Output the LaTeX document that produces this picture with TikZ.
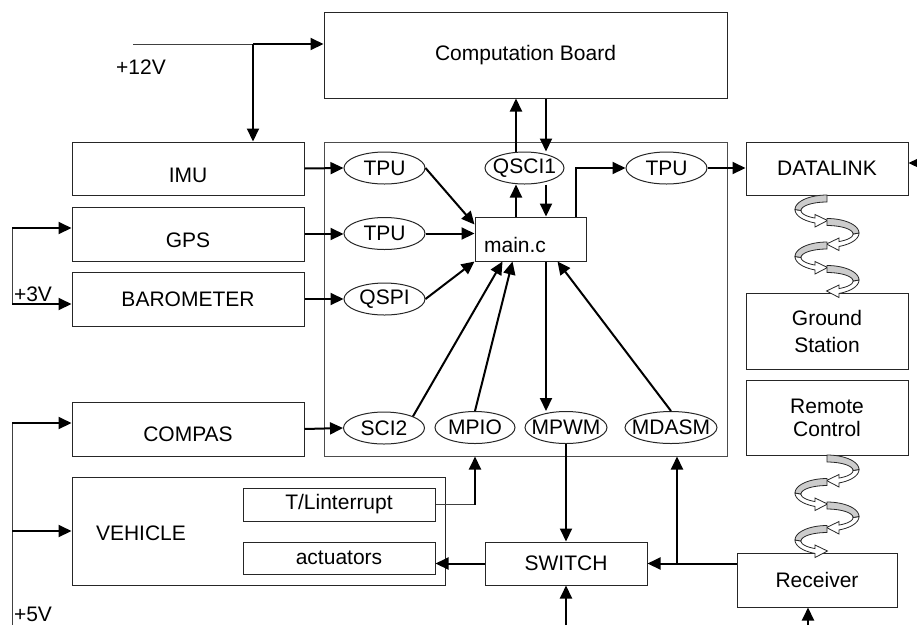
\documentclass[tikz,border=0pt]{standalone}
\usepackage{fontspec}
\setmainfont{Liberation Sans}
\usetikzlibrary{arrows.meta,shapes.geometric,calc}
\newcommand{\portlbl}[1]{\makebox[0pt]{#1}}
\tikzset{
 coil/.pic={
  \filldraw[fill=white, draw=black!85, line width=0.8pt]
    plot[domain=180:112, samples=16] ({32*cos(\x)},{14.5+14.5*sin(\x)})
    -- (-12,32) -- (0.5,25.5) -- (-12,19.5)
    -- plot[domain=117.5:180, samples=16] ({26*cos(\x)},{15.5+8.5*sin(\x)}) -- cycle;
  \filldraw[fill=gray!40, draw=black!85, line width=0.8pt]
    plot[domain=270:180, samples=16] ({32*cos(\x)},{14.5+14.5*sin(\x)})
    -- plot[domain=180:270, samples=16] ({26*cos(\x)},{15.5+8.5*sin(\x)}) -- cycle;
 }
}
\begin{document}
\begin{tikzpicture}[x=1pt,y=-1pt,
  font=\fontsize{21}{24}\selectfont,
  box/.style={draw=black!85, line width=1pt, inner sep=0pt, align=center},
  port/.style={ellipse, draw=black!85, line width=1pt, inner sep=0pt, minimum height=32pt, minimum width=81pt},
  arr/.style={line width=2pt, -{Triangle[length=13pt,width=12pt]}},
  wire/.style={line width=1pt, black!75},
  lbl/.style={inner sep=0pt}]
\useasboundingbox (0,0) rectangle (917,625);
% frames
\node[box, draw=black!70, minimum width=403pt, minimum height=314pt] (big) at (525.5,299) {};
\node[box, minimum width=403pt, minimum height=86pt] (cb) at (525.5,55) {Computation Board};
\node[box, minimum width=232pt, minimum height=53pt, text height=27pt, text depth=0pt] (imu) at (188,168.5) {IMU};
\node[box, minimum width=232pt, minimum height=54pt, text height=27pt, text depth=0pt] (gps) at (188,234) {GPS};
\node[box, minimum width=232pt, minimum height=54pt] (baro) at (188,299) {BAROMETER};
\node[box, minimum width=232pt, minimum height=54pt, text height=25pt, text depth=0pt] (compas) at (188,429) {COMPAS};
\node[box, minimum width=373pt, minimum height=108pt] (vehicle) at (258.5,531) {};
\node[lbl] (vehlbl) at (141,533) {VEHICLE};
\node[box, minimum width=192pt, minimum height=33pt] (tl) at (339,504.5) {T/Linterrupt};
\node[box, minimum width=192pt, minimum height=32pt] (act) at (339,558) {actuators};
\node[box, minimum width=111pt, minimum height=44pt] (main) at (530.5,239) {};
\node[lbl] (mainlbl) at (515,244.5) {main.c};
\node[box, minimum width=162pt, minimum height=43pt] (switch) at (566,563.5) {SWITCH};
\node[box, minimum width=162pt, minimum height=53pt] (datalink) at (827,168.5) {DATALINK};
\node[box, minimum width=162pt, minimum height=76pt] (ground) at (827,331) {Ground\\[3pt]Station};
\node[box, minimum width=162pt, minimum height=75pt] (remote) at (827,417.5) {Remote\\[-1pt]Control};
\node[box, minimum width=160pt, minimum height=54pt] (receiver) at (817,580) {Receiver};
% ports
\node[port] (tpu1) at (384.5,168) {\portlbl{TPU}};
\node[port] (tpu2) at (384.5,233.5) {\portlbl{TPU}};
\node[port] (qspi) at (384.5,299) {\portlbl{QSPI}};
\node[port] (sci2) at (384,428) {\portlbl{SCI2}};
\node[port, minimum width=80pt] (mpio) at (475,427.5) {\portlbl{MPIO}};
\node[port, minimum width=82pt] (mpwm) at (566,427.5) {\portlbl{MPWM}};
\node[port, minimum width=92pt] (mdasm) at (671,427.5) {\portlbl{MDASM}};
\node[port, minimum width=79pt] (qsci) at (524.5,168) {\portlbl{QSCI1}};
\node[port] (tpu3) at (666.5,168) {\portlbl{TPU}};
% voltage labels
\node[lbl] (l12) at (141,67) {+12V};
\node[lbl] (l3) at (33,294) {+3V};
\node[lbl] (l5) at (33,614) {+5V};
% +12V
\coordinate (v12a) at (133,44);
\coordinate (v12b) at (253,44);
\draw[wire] (v12a) -- (v12b);
\draw[arr] (v12b) -- (v12b -| cb.west);
\draw[arr] (v12b) -- (v12b |- imu.north);
% +3V
\coordinate (v3a) at (12,228);
\coordinate (v3b) at (12,304);
\draw[wire] (v3a) -- (v3b);
\draw[arr] (v3a) -- (v3a -| gps.west);
\draw[arr] (v3b) -- (v3b -| baro.west);
% +5V
\coordinate (v5a) at (12,423);
\coordinate (v5b) at (12,531);
\coordinate (v5c) at (12,625);
\draw[wire] (v5a) -- (v5c);
\draw[arr] (v5a) -- (v5a -| compas.west);
\draw[arr] (v5b) -- (vehicle.west);
% sensors to ports
\draw[arr] (imu.east) -- (tpu1.west);
\draw[arr] (gps.east) -- (gps.east -| tpu2.west);
\draw[arr] (baro.east) -- (qspi.west);
\draw[arr] (compas.east) -- (sci2.west);
% ports to main
\draw[arr] (tpu1.east) -- ($(main.north west)+(0,8)$);
\draw[arr] (tpu2.east) -- (tpu2.east -| main.west);
\draw[arr] (qspi.east) -- (main.south west);
\draw[arr] (sci2.north east) -- ($(main.south west)+(28,0)$);
\draw[arr] (mpio.north) -- ($(main.south west)+(38,0)$);
\draw[arr] (mdasm.north) -- ($(main.south east)+(-29,0)$);
% QSCI1
\coordinate (xq1) at (516,0);
\coordinate (xq2) at (546,0);
\draw[arr] (xq1 |- main.north) -- (xq1 |- qsci.south);
\draw[arr] (xq1 |- qsci.north) -- (xq1 |- cb.south);
\draw[arr] (xq2 |- cb.south) -- (xq2 |- qsci.north);
\draw[arr] (xq2 |- qsci.south) -- (xq2 |- main.north);
% main to TPU3 / datalink
\draw[arr] ($(main.north east)+(-11,0)$) |- (tpu3.west);
\draw[arr] (tpu3.east) -- (tpu3.east -| datalink.west);
\coordinate (dlin) at (917,163);
\draw[arr] (dlin) -- (dlin -| datalink.east);
% main to MPWM
\draw[arr] (xq2 |- main.south) -- (xq2 |- mpwm.north);
% T/L interrupt
\coordinate (tlc) at (mpio.south |- tl.east);
\draw[wire] (tl.east) -- (tlc);
\draw[arr] (tlc) -- (mpio.south |- big.south);
% switch
\draw[arr] (mpwm.south) -- (switch.north);
\draw[arr] (switch.west) -- (switch.west -| act.east);
\coordinate (swin) at (566,625);
\draw[arr] (swin) -- (switch.south);
\draw[arr] (switch.east -| receiver.west) -- (switch.east);
\coordinate (rb) at (677,563.5);
\draw[arr] (rb) -- (rb |- big.south);
\coordinate (rcin) at (808,625);
\draw[arr] (rcin) -- (rcin |- receiver.south);
% wireless links
\pic at (827,195) {coil};
\pic[xscale=-1] at (827,218.5) {coil};
\pic at (827,242) {coil};
\pic[xscale=-1] at (827,265.5) {coil};
\pic[xscale=-1] at (827,455) {coil};
\pic at (827,478.5) {coil};
\pic[xscale=-1] at (827,502) {coil};
\pic at (827,525.5) {coil};
\end{tikzpicture}
\end{document}
